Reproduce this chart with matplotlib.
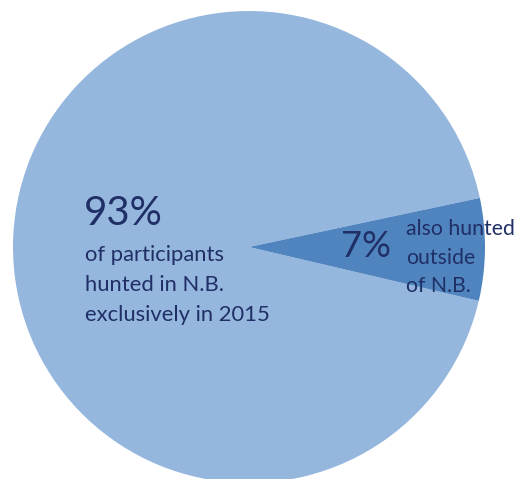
import matplotlib.pyplot as plt

# share of participants
labels = ['N.B. only', 'also outside N.B.']
shares = [93, 7]
colors = ['#95b7de', '#4f84bf']
text_color = '#202f66'

left_lines = ['of participants', 'hunted in N.B.', 'exclusively in 2015']
right_lines = ['also hunted', 'outside', 'of N.B.']

W, H = 521, 479
fig = plt.figure(figsize=(W / 100, H / 100), dpi=100)
fig.patch.set_facecolor('white')

# pie centre (249, 247) px from top-left, radius 236 px
cx, cy, r = 249, 247, 236
ax = fig.add_axes([(cx - r) / W, (H - cy - r) / H, 2 * r / W, 2 * r / H])
ax.pie(shares, colors=colors, startangle=12.0, counterclock=True,
       radius=1, wedgeprops=dict(linewidth=0))
ax.set_xlim(-1, 1)
ax.set_ylim(-1, 1)
ax.axis('off')


def px(x, y):
    return (x - cx) / r, (cy - y) / r


font = 'Lato'
ax.text(*px(84, 225), f'{shares[0]}%', fontsize=29, family=font,
        color=text_color, ha='left', va='baseline')
for i, line in enumerate(left_lines):
    ax.text(*px(85, 261 + 30 * i), line, fontsize=15.8, family=font,
            color=text_color, ha='left', va='baseline')

ax.text(*px(341, 257), f'{shares[1]}%', fontsize=26, family=font,
        color=text_color, ha='left', va='baseline')
for i, line in enumerate(right_lines):
    ax.text(*px(406, 235 + 28.5 * i), line, fontsize=15.3, family=font,
            color=text_color, ha='left', va='baseline')

fig.savefig('out.png', dpi=100)
